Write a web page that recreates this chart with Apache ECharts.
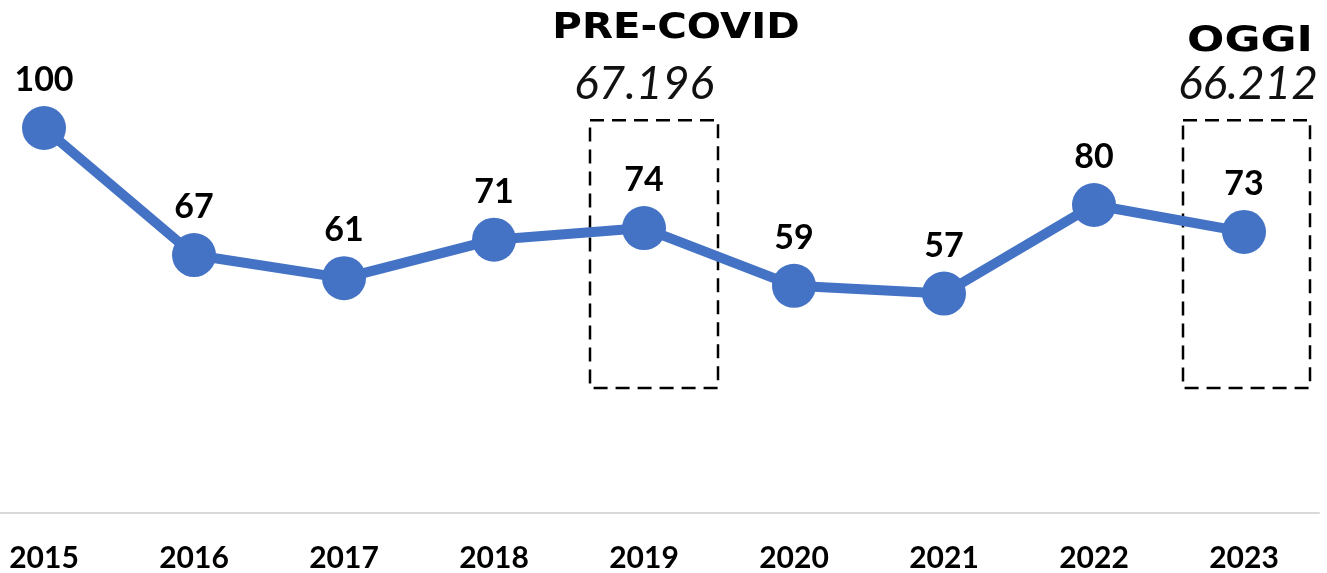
<!DOCTYPE html>
<html>
<head>
<meta charset="utf-8">
<script src="https://cdn.jsdelivr.net/npm/echarts@6/dist/echarts.min.js"></script>
<style>
  html, body { margin: 0; padding: 0; background: #fff; overflow: hidden; }
  /* il primo anno è tagliato a sinistra: il grafico parte fuori dalla pagina */
  #chart { width: 1358px; height: 573px; margin-left: -31px; }
</style>
</head>
<body>
<div id="chart"></div>
<script>
// dati
var years = ['2015', '2016', '2017', '2018', '2019', '2020', '2021', '2022', '2023'];
var indexValues = [100, 67, 61, 71, 74, 59, 57, 80, 73];
var boxYears = ['2019', '2023'];
var boxTitles = ['PRE-COVID', 'OGGI'];
var boxNumbers = ['67.196', '66.212'];

var blue = '#4472C4';
var myChart = echarts.init(document.getElementById('chart'));

myChart.setOption({
  animation: false,
  grid: { left: 0, right: 8, top: 128, bottom: 54 },
  xAxis: {
    type: 'category',
    data: years,
    boundaryGap: true,
    axisLine: { lineStyle: { color: '#d9d9d9', width: 2 } },
    axisTick: { show: false },
    axisLabel: {
      margin: 30,
      color: '#000',
      fontFamily: 'Lato',
      fontWeight: 'bold',
      fontSize: 30
    }
  },
  yAxis: {
    type: 'value',
    min: 0,
    max: 100,
    show: false,
    splitLine: { show: false }
  },
  series: [
    {
      type: 'line',
      data: indexValues,
      symbol: 'circle',
      symbolSize: 44,
      itemStyle: { color: blue },
      lineStyle: { color: blue, width: 10 },
      label: {
        show: true,
        position: 'top',
        distance: 9,
        color: '#000',
        fontFamily: 'Lato',
        fontWeight: 'bold',
        fontSize: 34
      }
    }
  ]
});

// riquadri tratteggiati + titoli
var graphics = [];
boxYears.forEach(function (y, i) {
  var cx = myChart.convertToPixel({ xAxisIndex: 0 }, y);
  var top = myChart.convertToPixel({ yAxisIndex: 0 }, 102);
  var bottom = myChart.convertToPixel({ yAxisIndex: 0 }, 32.5);
  var offs = i === 0 ? [-54, 74] : [-61, 66];
  graphics.push({
    type: 'rect',
    shape: { x: cx + offs[0], y: top, width: offs[1] - offs[0], height: bottom - top },
    style: { fill: 'none', stroke: '#000', lineWidth: 2.5, lineDash: [14, 8] },
    z: 1
  });
  graphics.push({
    type: 'text',
    x: i === 0 ? cx + 32 : cx + 6,
    y: i === 0 ? 29 : 42,
    scaleX: i === 0 ? 1.12 : 1.22,
    style: {
      text: boxTitles[i],
      fill: '#000',
      font: 'bold 36px "DejaVu Sans"',
      textAlign: 'center',
      textVerticalAlign: 'middle'
    }
  });
  graphics.push({
    type: 'text',
    x: i === 0 ? cx : cx + 4,
    y: 84,
    style: {
      text: boxNumbers[i],
      fill: '#111',
      font: 'italic 46px Lato',
      textAlign: 'center',
      textVerticalAlign: 'middle'
    }
  });
});
myChart.setOption({ graphic: graphics });
</script>
</body>
</html>
